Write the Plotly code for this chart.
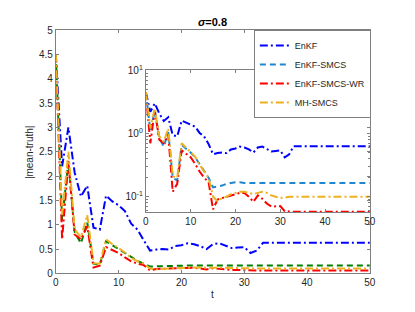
import plotly.graph_objects as go

t = list(range(51))

enkf = [4.5, 2.2, 3.0, 2.07, 1.58, 1.80, 0.94, 0.90, 1.60, 1.48, 1.40, 1.28, 1.02, 0.90, 0.68,
        0.47, 0.49, 0.50, 0.49, 0.56, 0.58, 0.62, 0.60, 0.56, 0.50, 0.60, 0.62, 0.57, 0.52, 0.53,
        0.54, 0.42, 0.47] + [0.63] * 18

enkf_smcs = [4.5, 1.1, 2.3, 0.85, 0.62, 1.05, 0.20, 0.18, 0.66, 0.58, 0.50, 0.42, 0.33, 0.26, 0.20,
             0.14, 0.145, 0.15, 0.16, 0.165, 0.17, 0.17, 0.165, 0.165, 0.165] + [0.165] * 26

enkf_smcs_wr = [4.5, 0.70, 2.3, 0.80, 0.70, 0.97, 0.12, 0.16, 0.54, 0.48, 0.42, 0.33, 0.25, 0.20, 0.17,
                0.063, 0.09, 0.095, 0.10, 0.105, 0.11, 0.115, 0.115, 0.10, 0.083, 0.105, 0.093, 0.078,
                0.07, 0.07, 0.071, 0.059] + [0.058] * 19

mh_smcs = [4.5, 1.2, 2.5, 0.90, 0.74, 1.20, 0.21, 0.20, 0.70, 0.60, 0.52, 0.43, 0.32, 0.25, 0.20,
           0.10, 0.085, 0.095, 0.10, 0.11, 0.115, 0.12, 0.12, 0.115, 0.11, 0.115, 0.12, 0.115,
           0.105, 0.10, 0.095, 0.097] + [0.10] * 19

names = ["EnKF", "EnKF-SMCS", "EnKF-SMCS-WR", "MH-SMCS"]
main_colors = ["#0000FF", "#008000", "#FF0000", "#EDB120"]
inset_colors = ["#0000FF", "#1f86d0", "#FF0000", "#EDB120"]
dashes = ["8px,3px,2px,3px", "6px,4px", "8px,3px,2px,3px", "8px,3px,2px,3px"]
series = [enkf, enkf_smcs, enkf_smcs_wr, mh_smcs]

W, H = 415, 312
fig = go.Figure()
for s, c, d, n in zip(series, main_colors, dashes, names):
    fig.add_trace(go.Scatter(x=t, y=s, mode="lines", line=dict(color=c, width=2, dash=d),
                             name=n, showlegend=False, xaxis="x", yaxis="y"))
for s, c, d, n in zip(series, inset_colors, dashes, names):
    fig.add_trace(go.Scatter(x=t, y=s, mode="lines", line=dict(color=c, width=2, dash=d),
                             name=n, showlegend=True, xaxis="x2", yaxis="y2"))

axcol = "#7f7f7f"
tickfont = dict(family="Liberation Sans, Arial", size=10, color="#262626")
common = dict(showline=True, linecolor=axcol, linewidth=1, mirror="ticks", ticks="inside",
              tickcolor=axcol, ticklen=3, showgrid=False, zeroline=False, tickfont=tickfont)

fig.update_layout(
    width=W, height=H, margin=dict(l=0, r=0, t=0, b=0),
    paper_bgcolor="white", plot_bgcolor="rgba(0,0,0,0)",
    xaxis=dict(domain=[54 / W, 375 / W], range=[0, 50], tickvals=[0, 10, 20, 30, 40, 50],
               anchor="y", **common),
    yaxis=dict(domain=[1 - 278 / H, 1 - 24 / H], range=[0, 5],
               tickvals=[0, 0.5, 1, 1.5, 2, 2.5, 3, 3.5, 4, 4.5, 5],
               ticktext=["0", "0.5", "1", "1.5", "2", "2.5", "3", "3.5", "4", "4.5", "5"],
               anchor="x", **common),
    xaxis2=dict(domain=[146 / W, 375 / W], range=[0, 50], tickvals=[0, 10, 20, 30, 40, 50],
                anchor="y2", **common),
    yaxis2=dict(domain=[1 - 214 / H, 1 - 66 / H], type="log", range=[-1.243, 1],
                tickvals=[0.1, 1, 10], ticktext=["10<sup>-1</sup>", "10<sup>0</sup>", "10<sup>1</sup>"],
                minor=dict(ticks="inside", ticklen=2, tickcolor=axcol,
                           tickvals=[0.06, 0.07, 0.08, 0.09, 0.2, 0.3, 0.4, 0.5, 0.6, 0.7, 0.8, 0.9,
                                     2, 3, 4, 5, 6, 7, 8, 9]),
                anchor="x2", **common),
    legend=dict(x=376 / W, xanchor="right", y=1 - 24 / H, yanchor="top",
                bgcolor="white", bordercolor=axcol, borderwidth=1,
                font=dict(family="Liberation Sans, Arial", size=9, color="#262626"),
                tracegroupgap=0, itemwidth=30, entrywidth=118, entrywidthmode="pixels"),
    annotations=[
        dict(text="<b><i>σ</i>=0.8</b>", x=214 / W, y=1 - 16 / H, xref="paper", yref="paper",
             xanchor="center", yanchor="middle", showarrow=False,
             font=dict(family="Liberation Sans, Arial", size=11, color="black")),
        dict(text="|mean-truth|", x=27 / W, y=1 - 151 / H, xref="paper", yref="paper",
             xanchor="center", yanchor="middle", textangle=-90, showarrow=False,
             font=dict(family="Liberation Sans, Arial", size=10, color="#262626")),
        dict(text="t", x=214 / W, y=1 - 300 / H, xref="paper", yref="paper",
             xanchor="center", yanchor="middle", showarrow=False,
             font=dict(family="Liberation Sans, Arial", size=10, color="#262626")),
    ],
)

fig.write_html("out.html", config={"displayModeBar": False},
               post_script="document.body.style.margin='0';")
